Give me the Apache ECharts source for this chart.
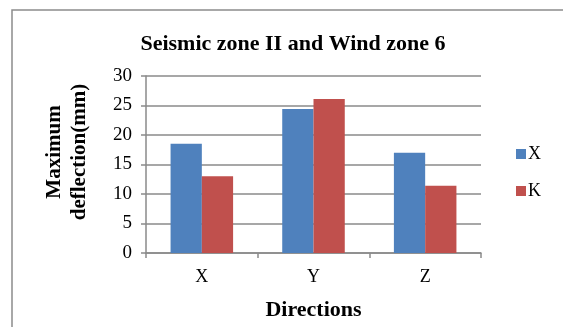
<!DOCTYPE html>
<html>
<head>
<meta charset="utf-8">
<script src="https://cdn.jsdelivr.net/npm/echarts@6/dist/echarts.min.js"></script>
<style>
  html, body { margin: 0; padding: 0; background: #fff; }
  #chart { width: 563px; height: 327px; }
</style>
</head>
<body>
<div id="chart"></div>
<script>
// Maximum deflection per direction, two series
const directions = ['X', 'Y', 'Z'];
const seriesNames = ['X', 'K'];
const valuesX = [18.5, 24.4, 17.0];
const valuesK = [13.0, 26.1, 11.4];
const yTicks = { min: 0, max: 30, interval: 5 };

const FONT = '"Liberation Serif", "Times New Roman", serif';
const GRID_GRAY = '#8a8a8a';

const chart = echarts.init(document.getElementById('chart'), null, { renderer: 'canvas' });

chart.setOption({
  backgroundColor: '#ffffff',
  animation: false,
  title: {
    text: 'Seismic zone II and Wind zone 6',
    left: 288,
    textAlign: 'center',
    top: 28,
    textStyle: { fontFamily: FONT, fontWeight: 'bold', fontSize: 22, color: '#000' }
  },
  graphic: [
    {
      type: 'rect',
      shape: { x: 12, y: 10, width: 620, height: 400 },
      style: { fill: 'none', stroke: '#8c8c8c', lineWidth: 1.5 },
      silent: true
    },
    {
      type: 'text',
      x: 67,
      y: 152,
      rotation: Math.PI / 2,
      style: {
        text: 'Maximum\ndeflection(mm)',
        fontFamily: FONT,
        fontWeight: 'bold',
        fontSize: 21,
        lineHeight: 25,
        fill: '#000',
        align: 'center',
        verticalAlign: 'middle'
      }
    }
  ],
  legend: {
    orient: 'vertical',
    left: 511,
    top: 140,
    itemWidth: 10,
    itemHeight: 10,
    itemGap: 19,
    icon: 'rect',
    data: seriesNames,
    textStyle: { fontFamily: FONT, fontSize: 18, color: '#000', padding: [0, 0, 0, -3] }
  },
  grid: { left: 146, right: 82, top: 76, bottom: 74, containLabel: false },
  xAxis: {
    type: 'category',
    data: directions,
    name: 'Directions',
    nameLocation: 'middle',
    nameGap: 46,
    nameTextStyle: { fontFamily: FONT, fontWeight: 'bold', fontSize: 22, color: '#000' },
    axisLine: { lineStyle: { color: GRID_GRAY, width: 1.5 } },
    axisTick: { show: true, length: 5, lineStyle: { color: GRID_GRAY, width: 1.5 } },
    axisLabel: { fontFamily: FONT, fontSize: 18, color: '#000', margin: 15 }
  },
  yAxis: {
    type: 'value',
    min: yTicks.min,
    max: yTicks.max,
    interval: yTicks.interval,
    axisLine: { show: true, lineStyle: { color: GRID_GRAY, width: 1.5 } },
    axisTick: { show: true, length: 5, lineStyle: { color: GRID_GRAY, width: 1.5 } },
    axisLabel: { fontFamily: FONT, fontSize: 19, color: '#000', margin: 14 },
    splitLine: { show: true, lineStyle: { color: GRID_GRAY, width: 1.5 } }
  },
  series: [
    {
      name: seriesNames[0],
      type: 'bar',
      data: valuesX,
      barGap: '0%',
      barCategoryGap: '44%',
      itemStyle: { color: '#4F81BD' }
    },
    {
      name: seriesNames[1],
      type: 'bar',
      data: valuesK,
      barGap: '0%',
      barCategoryGap: '44%',
      itemStyle: { color: '#C0504D' }
    }
  ]
});
</script>
</body>
</html>
